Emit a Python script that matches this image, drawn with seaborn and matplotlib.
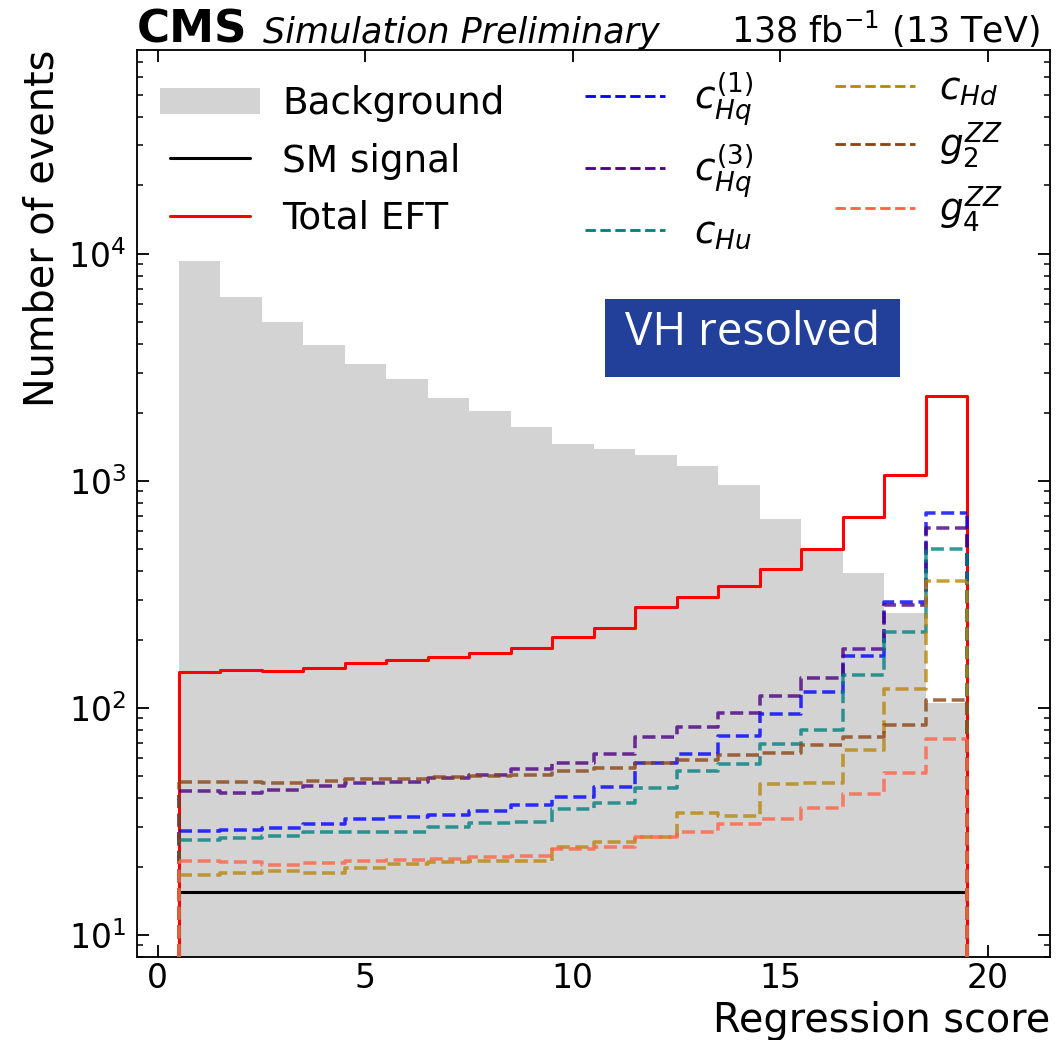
import numpy as np
import pandas as pd
import matplotlib
matplotlib.use("Agg")
import matplotlib.pyplot as plt
import matplotlib.patches as mpatches
from matplotlib.lines import Line2D
from matplotlib.legend_handler import HandlerPatch
import seaborn as sns

# ---------------- data ----------------
bin_edges = [0.5, 1.5, 2.5, 3.5, 4.5, 5.5, 6.5, 7.5, 8.5, 9.5, 10.5,
             11.5, 12.5, 13.5, 14.5, 15.5, 16.5, 17.5, 18.5, 19.5]

background = [9290, 6450, 5000, 3970, 3280, 2810, 2325, 2040, 1730, 1450,
              1377, 1300, 1167, 960, 676, 489, 394, 261, 105]
sm_signal = [15.5] * 19
total_eft = [144, 147, 145, 150, 158, 162, 167, 175, 183, 206,
             225, 278, 308, 346, 410, 503, 692, 1059, 2373]
c_hq1 = [28.7, 28.9, 29.5, 30.8, 32.3, 33.1, 33.7, 35.0, 37.5, 40.7,
         45.0, 57.0, 62.9, 75.2, 93.7, 118, 170, 292, 723]
c_hq3 = [42.9, 42.3, 43.3, 45.4, 46.9, 47.4, 49.0, 50.5, 53.7, 57.4,
         62.7, 74.5, 82.4, 95.3, 112.4, 134.9, 182.4, 285, 621]
c_hu = [26.2, 26.7, 27.3, 28.4, 28.4, 28.5, 29.8, 31.2, 31.5, 35.9,
        38.0, 44.2, 52.8, 56.9, 69.6, 80.2, 139, 215, 502]
c_hd = [18.3, 18.8, 19.2, 18.8, 19.8, 20.5, 21.0, 21.2, 21.2, 24.5,
        25.8, 27.1, 34.3, 33.5, 46.4, 46.9, 65.3, 121.6, 363]
g2_zz = [47.4, 47.4, 46.7, 47.5, 48.7, 48.7, 49.5, 50.4, 50.9, 52.6,
         54.5, 57.4, 59.0, 62.0, 63.6, 68.5, 74.5, 84.1, 107.9]
g4_zz = [21.1, 20.9, 20.4, 20.8, 21.1, 21.4, 21.6, 22.1, 22.2, 23.9,
         24.5, 27.1, 28.5, 30.8, 32.4, 36.4, 41.7, 51.6, 72.8]

x_ticks = [0, 5, 10, 15, 20]

eft_labels = [r"$c_{Hq}^{(1)}$", r"$c_{Hq}^{(3)}$", r"$c_{Hu}$",
              r"$c_{Hd}$", r"$g_{2}^{ZZ}$", r"$g_{4}^{ZZ}$"]
eft_values = [c_hq1, c_hq3, c_hu, c_hd, g2_zz, g4_zz]
eft_colors = ["blue", "indigo", "teal", "darkgoldenrod", "saddlebrown", "tomato"]

# ---------------- style ----------------
sns.set_style("ticks")
plt.rcParams.update({
    "font.family": ["DejaVu Sans"],
    "mathtext.fontset": "dejavusans",
    "xtick.direction": "in",
    "ytick.direction": "in",
    "xtick.top": True,
    "ytick.right": True,
    "axes.linewidth": 1.2,
    "axes.edgecolor": "black",
    "text.color": "black",
    "axes.labelcolor": "black",
    "xtick.color": "black",
    "ytick.color": "black",
    "xtick.labelcolor": "black",
    "ytick.labelcolor": "black",
})

centers = [0.5 * (a + b) for a, b in zip(bin_edges[:-1], bin_edges[1:])]
y_bottom, y_top = 8.0, 7.9e4

fig = plt.figure(figsize=(1056 / 110, 1040 / 110), dpi=110)
ax = fig.add_axes([137 / 1056, 1 - 957 / 1040, 913 / 1056, 907 / 1040])
ax.set_yscale("log")

LW = 2.0
LW_DASH = 2.3


def frame(values):
    return pd.DataFrame({"score": centers, "events": values})


def step_hist(values, color, ls, alpha, zorder, lw):
    sns.histplot(data=frame(values), x="score", weights="events",
                 bins=bin_edges, element="step", fill=False, color=color,
                 linestyle=ls, linewidth=lw, alpha=alpha, ax=ax, zorder=zorder)
    ax.vlines([bin_edges[0], bin_edges[-1]], y_bottom, [values[0], values[-1]],
              colors=[matplotlib.colors.to_rgba(color, alpha)],
              linestyles=ls, linewidth=lw, zorder=zorder)


# background fill
sns.histplot(data=frame(background), x="score", weights="events",
             bins=bin_edges, element="step", fill=True, color="lightgray",
             alpha=1.0, linewidth=0, ax=ax, zorder=1)

step_hist(sm_signal, "black", "-", 1.0, 3, LW)
step_hist(total_eft, "red", "-", 1.0, 4, LW)
for vals, col in zip(eft_values, eft_colors):
    step_hist(vals, col, "--", 0.8, 5, LW_DASH)

ax.set_xlim(-0.5, 21.5)
ax.set_ylim(y_bottom, y_top)
ax.set_xticks(x_ticks)
ax.set_xticklabels([str(t) for t in x_ticks])
ax.tick_params(axis="both", which="major", length=8, width=1.2,
               labelsize=21.7)
ax.tick_params(axis="x", which="major", pad=3)
ax.tick_params(axis="y", which="major", pad=7)
ax.tick_params(axis="y", which="minor", length=4, width=1.0)
ax.tick_params(axis="x", which="minor", bottom=False, top=False)

ax.set_xlabel("Regression score", fontsize=26, loc="right", labelpad=4.5)
ax.set_ylabel("Number of events", fontsize=26, loc="top")

# header texts
ax.text(0.0, 1.008, "CMS", transform=ax.transAxes, fontsize=29.5,
        fontweight="bold", ha="left", va="baseline")
ax.text(0.138, 1.008, "Simulation Preliminary", transform=ax.transAxes,
        fontsize=22.9, style="italic", ha="left", va="baseline")
ax.text(0.989, 1.008, r"138 fb$^{-1}$ (13 TeV)", transform=ax.transAxes,
        fontsize=22.8, ha="right", va="baseline")

# VH resolved box
ax.add_patch(mpatches.Rectangle((0.5126, 0.6395), 0.3231, 0.086,
                                transform=ax.transAxes, facecolor="#22409a",
                                edgecolor="none", zorder=6))
ax.text(0.674, 0.6748, "VH resolved", transform=ax.transAxes, fontsize=30,
        color="white", ha="center", va="baseline", zorder=7,
        family=["Open Sans", "DejaVu Sans"])


# legends
def wide_patch(legend, orig_handle, xdescent, ydescent, width, height, fontsize):
    ext = 0.125 * width
    return mpatches.Rectangle((-xdescent - ext, -ydescent), width + 2 * ext, height)


leg_kw = dict(frameon=False, fontsize=24.5, borderpad=0, borderaxespad=0,
              handlelength=2.15, loc="upper left")

h1 = [mpatches.Patch(facecolor="lightgray", edgecolor="none"),
      Line2D([], [], color="black", lw=LW),
      Line2D([], [], color="red", lw=LW)]
leg1 = ax.legend(h1, ["Background", "SM signal", "Total EFT"],
                 bbox_to_anchor=(0.036, 0.961), labelspacing=0.54,
                 handletextpad=0.85,
                 handler_map={mpatches.Patch: HandlerPatch(patch_func=wide_patch)},
                 **leg_kw)
ax.add_artist(leg1)

eft_handles = [Line2D([], [], color=c, lw=LW_DASH * 0.8, ls="--") for c in eft_colors]
leg2 = ax.legend(eft_handles[:3], eft_labels[:3], labelspacing=0.38,
                 handletextpad=0.75,
                 bbox_to_anchor=(0.4907, 0.978), **leg_kw)
ax.add_artist(leg2)
leg3 = ax.legend(eft_handles[3:], eft_labels[3:], labelspacing=0.36,
                 handletextpad=0.62,
                 bbox_to_anchor=(0.7645, 0.978), **leg_kw)

fig.savefig("out.png", dpi=110)
